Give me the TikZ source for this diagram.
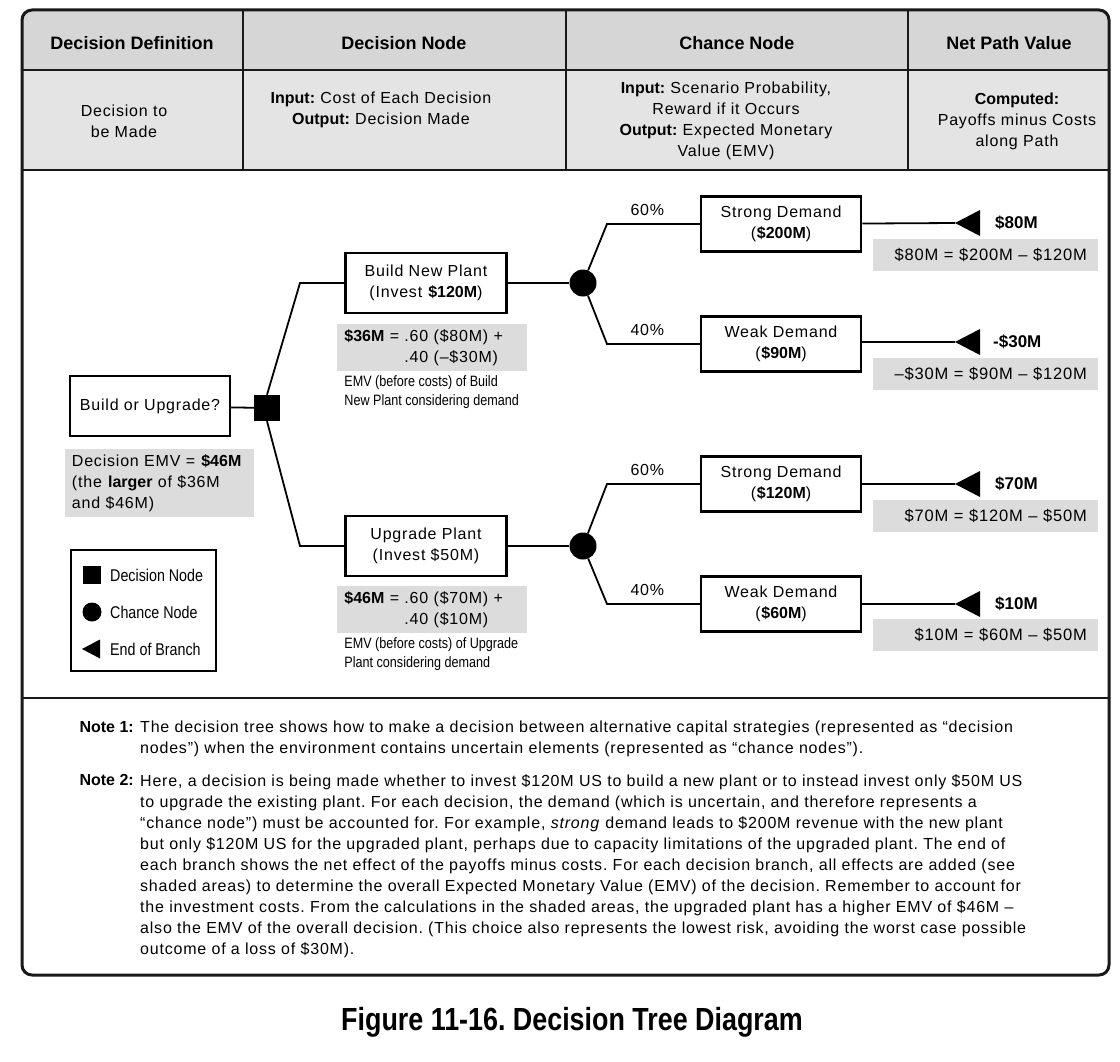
\documentclass[tikz,border=0pt]{standalone}
\usepackage{fontspec}
\setmainfont[LetterSpace=5,BoldFeatures={LetterSpace=0}]{Liberation Sans}
\newfontfamily\condfont[FakeStretch=0.84]{Liberation Sans}
\usepackage{tikz}
\usetikzlibrary{positioning,calc}
\frenchspacing
\definecolor{hdrgray}{HTML}{D6D6D6}
\definecolor{rowgray}{HTML}{E4E4E4}
\definecolor{shadegray}{HTML}{DCDCDC}
\tikzset{
  frame/.style={line width=3pt,draw=black!90},
  rule/.style={line width=2.6pt,draw=black!90},
  hdr/.style={font=\fontsize{18}{22}\selectfont\bfseries},
  cell/.style={align=center,font=\fontsize{16}{21}\selectfont},
  choice/.style={draw,line width=2.5pt,minimum width=161pt,minimum height=60pt,align=center,inner sep=2pt},
  outcome/.style={draw,line width=2.5pt,minimum width=160pt,minimum height=55pt,align=center,inner sep=2pt},
  conn/.style={line width=1.8pt},
  decsq/.style={fill=black,minimum size=26pt,inner sep=0pt},
  chance/.style={circle,fill=black,minimum size=27pt,inner sep=0pt},
  prob/.style={font=\fontsize{16}{20}\selectfont,inner sep=3pt},
  payoff/.style={font=\fontsize{17}{20}\selectfont\bfseries,inner sep=0pt},
  shade/.style={fill=shadegray,align=left,inner xsep=7pt,inner ysep=5pt},
  netbox/.style={fill=shadegray,align=right,text width=203pt,inner xsep=11pt,minimum height=32pt,font=\fontsize{16.5}{20}\selectfont},
  small/.style={font=\condfont\fontsize{15}{19}\selectfont,align=left,inner sep=0pt},
  lgtext/.style={font=\condfont\fontsize{17}{20}\selectfont,inner sep=0pt,anchor=west},
  notelab/.style={font=\fontsize{16}{21}\selectfont\bfseries,inner sep=0pt},
  notetext/.style={font=\fontsize{16}{21}\selectfont,align=left,inner sep=0pt}
}
\newcommand\branchtip[2]{\fill (#1) -- ++(#2,#2/2+0.5) -- ++(0,-#2-1) -- cycle;}

\begin{document}
\begin{tikzpicture}[x=1pt,y=1pt,font=\fontsize{16}{21}\selectfont]
\useasboundingbox[fill=white] (0,0) rectangle (1120,-1062);

% table head
\begin{scope}
\clip[rounded corners=10pt] (22,-10) rectangle (1109,-975);
\fill[hdrgray] (22,-10) rectangle (1109,-70);
\fill[rowgray] (22,-70) rectangle (1109,-170);
\end{scope}
\draw[frame,rounded corners=10pt] (22,-10) rectangle (1109,-975);
\draw[rule] (22,-70) -- (1109,-70);
\draw[rule] (22,-170) -- (1109,-170);
\draw[rule] (22,-698) -- (1109,-698);
\foreach \x in {243,566,908} \draw[rule] (\x,-10) -- (\x,-170);

\node[hdr] (hdef) at (132,-43) {Decision Definition};
\node[hdr] (hdec) at (404,-43) {Decision Node};
\node[hdr] (hcha) at (737,-43) {Chance Node};
\node[hdr] (hnet) at (1009,-43) {Net Path Value};

\node[cell] (cdef) at (124,-121) {Decision to\\be Made};
\node[cell] (cdec) at (381,-110) {\textbf{Input:} Cost of Each Decision\\\textbf{Output:} Decision Made};
\node[cell] (ccha) at (726,-121) {\textbf{Input:} Scenario Probability,\\Reward if it Occurs\\\textbf{Output:} Expected Monetary\\Value (EMV)};
\node[cell] (cnet) at (1017,-121) {\textbf{Computed:}\\Payoffs minus Costs\\along Path};

% decision
\node[choice,minimum width=160pt] (root) at (150,-406) {Build or Upgrade?};
\node[decsq] (dec) at (267,-408) {};
\draw[conn] (root) -- (dec);
\node[shade,text width=175pt,anchor=north west,below right=12pt and -4pt of root.south west] (emv) {Decision EMV = \textbf{\$46M}\\(the \textbf{larger} of \$36M\\and \$46M)};

\node[choice] (build) at (426,-283) {Build New Plant\\(Invest \textbf{\$120M})};
\node[choice] (upg) at (426,-546) {Upgrade Plant\\(Invest \$50M)};
\coordinate (kup) at (300,-283);
\coordinate (klo) at (300,-546);
\draw[conn] (dec.north) -- (kup) -- (build.west);
\draw[conn] (dec.south) -- (klo) -- (upg.west);

\node[shade,text width=176pt,below right=10pt and -7pt of build.south west] (emvb) {\textbf{\$36M} = .60 (\$80M) +\\\phantom{\textbf{\$36M} = }.40 (–\$30M)};
\node[small,below right=5pt and 7pt of emvb.south west] (capb) {EMV (before costs) of Build\\New Plant considering demand};
\node[shade,text width=176pt,below right=9pt and -7pt of upg.south west] (emvu) {\textbf{\$46M} = .60 (\$70M) +\\\phantom{\textbf{\$46M} = }.40 (\$10M)};
\node[small,below right=5pt and 7pt of emvu.south west] (capu) {EMV (before costs) of Upgrade\\Plant considering demand};

% chance
\node[chance] (cb) at (583,-283) {};
\node[chance] (cu) at (583,-546) {};
\draw[conn] (build) -- (cb);
\draw[conn] (upg) -- (cu);

\node[outcome] (sb) at (781,-224) {Strong Demand\\(\textbf{\$200M})};
\node[outcome] (wb) at (781,-344) {Weak Demand\\(\textbf{\$90M})};
\node[outcome] (su) at (781,-484) {Strong Demand\\(\textbf{\$120M})};
\node[outcome] (wu) at (781,-604) {Weak Demand\\(\textbf{\$60M})};

\coordinate (ksb) at (607,-224);
\coordinate (kwb) at (607,-344);
\coordinate (ksu) at (607,-484);
\coordinate (kwu) at (607,-604);
\draw[conn] (cb) -- (ksb) -- node[prob,above,xshift=-6pt,yshift=4pt]{60\%} (sb.west);
\draw[conn] (cb) -- (kwb) -- node[prob,above,xshift=-6pt,yshift=4pt]{40\%} (wb.west);
\draw[conn] (cu) -- (ksu) -- node[prob,above,xshift=-6pt,yshift=4pt]{60\%} (su.west);
\draw[conn] (cu) -- (kwu) -- node[prob,above,xshift=-6pt,yshift=4pt]{40\%} (wu.west);

% end of branch
\coordinate (esb) at (955,-223);
\coordinate (ewb) at (955,-342);
\coordinate (esu) at (955,-484);
\coordinate (ewu) at (955,-604);
\draw[conn] (sb) -- (esb);
\draw[conn] (wb.east |- ewb) -- (ewb);
\draw[conn] (su) -- (esu);
\draw[conn] (wu) -- (ewu);
\foreach \e in {esb,ewb,esu,ewu} {\branchtip{\e}{25}}
\node[payoff,right=40pt of esb] (psb) {\$80M};
\node[payoff,right=38pt of ewb] (pwb) {-\$30M};
\node[payoff,right=40pt of esu] (psu) {\$70M};
\node[payoff,right=40pt of ewu] (pwu) {\$10M};

\node[netbox,anchor=north east] (nsb) at (1098,-239) {\$80M = \$200M – \$120M};
\node[netbox,anchor=north east] (nwb) at (1098,-358) {–\$30M = \$90M – \$120M};
\node[netbox,anchor=north east] (nsu) at (1098,-500) {\$70M = \$120M – \$50M};
\node[netbox,anchor=north east] (nwu) at (1098,-619) {\$10M = \$60M – \$50M};

% legend
\node[draw,line width=2.5pt,minimum width=145pt,minimum height=121pt] (legend) at (143.5,-610.5) {};
\node[fill=black,minimum size=18pt,inner sep=0pt] (lgsq) at (92,-575) {};
\node[circle,fill=black,minimum size=19pt,inner sep=0pt] (lgci) at (92,-612) {};
\coordinate (lgtr) at (82,-649);
\branchtip{lgtr}{18}
\node[lgtext] (lgdec) at (110,-575) {Decision Node};
\node[lgtext] (lgcha) at (110,-612) {Chance Node};
\node[lgtext] (lgend) at (110,-649) {End of Branch};

% notes
\node[notelab,anchor=north east] (nl1) at (134,-721) {Note 1:};
\node[notetext,anchor=north west] (nt1) at (140,-721) {The decision tree shows how to make a decision between alternative capital strategies (represented as “decision\\nodes”) when the environment contains uncertain elements (represented as “chance nodes”).};
\node[notelab,anchor=north east] (nl2) at (134,-774) {Note 2:};
\node[notetext,anchor=north west] (nt2) at (140,-774) {Here, a decision is being made whether to invest \$120M US to build a new plant or to instead invest only \$50M US\\to upgrade the existing plant. For each decision, the demand (which is uncertain, and therefore represents a\\“chance node”) must be accounted for. For example, \emph{strong} demand leads to \$200M revenue with the new plant\\but only \$120M US for the upgraded plant, perhaps due to capacity limitations of the upgraded plant. The end of\\each branch shows the net effect of the payoffs minus costs. For each decision branch, all effects are added (see\\shaded areas) to determine the overall Expected Monetary Value (EMV) of the decision. Remember to account for\\the investment costs. From the calculations in the shaded areas, the upgraded plant has a higher EMV of \$46M –\\also the EMV of the overall decision. (This choice also represents the lowest risk, avoiding the worst case possible\\outcome of a loss of \$30M).};

\node[font=\condfont\fontsize{32}{36}\selectfont\bfseries] (title) at (572,-1022) {Figure 11-16. Decision Tree Diagram};
\end{tikzpicture}
\end{document}
